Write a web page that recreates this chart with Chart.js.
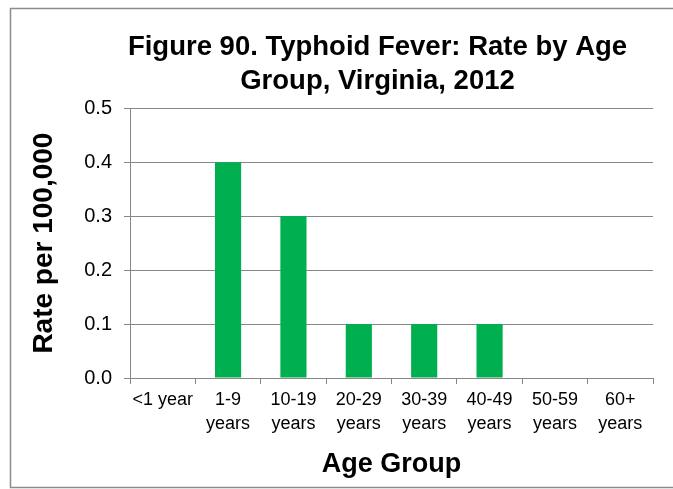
<!DOCTYPE html>
<html>
<head>
<meta charset="utf-8">
<script src="https://cdn.jsdelivr.net/npm/chart.js@4.4.1/dist/chart.umd.min.js"></script>
<style>
  html, body { margin: 0; padding: 0; background: #fff; }
  #wrap { width: 673px; height: 489px; position: relative; }
</style>
</head>
<body>
<div id="wrap"><canvas id="chart" width="673" height="489"></canvas></div>
<script>
// chart data
const ageGroups = ['<1 year', ['1-9', 'years'], ['10-19', 'years'], ['20-29', 'years'],
    ['30-39', 'years'], ['40-49', 'years'], ['50-59', 'years'], ['60+', 'years']];
const rates = [0, 0.4, 0.3, 0.1, 0.1, 0.1, 0, 0];
const yTicks = [0, 0.1, 0.2, 0.3, 0.4, 0.5];

const FONT = "'Liberation Sans', Arial, sans-serif";
const GRID = '#878787';

// outer frame + title offset
const framePlugin = {
    id: 'frame',
    afterLayout(chart) {
        const t = chart.titleBlock;
        if (t) { t.left = 100; t.right = 655; }
    },
    beforeDraw(chart) {
        const ctx = chart.ctx;
        ctx.save();
        ctx.strokeStyle = '#8c8c8c';
        ctx.lineWidth = 1.5;
        ctx.strokeRect(10.5, 8.5, 680, 479);
        ctx.restore();
    }
};

new Chart(document.getElementById('chart'), {
    type: 'bar',
    data: {
        labels: ageGroups,
        datasets: [{
            data: rates,
            backgroundColor: '#00b050',
            barPercentage: 0.4,
            categoryPercentage: 1.0
        }]
    },
    options: {
        responsive: false,
        animation: false,
        layout: { padding: { top: 30, left: 27, right: 20, bottom: 8 } },
        plugins: {
            legend: { display: false },
            tooltip: { enabled: false },
            title: {
                display: true,
                text: ['Figure 90. Typhoid Fever: Rate by Age', 'Group, Virginia, 2012'],
                color: '#000',
                font: { family: FONT, size: 27.5, weight: 'bold', lineHeight: 1.24 },
                padding: { top: 0, bottom: 10 }
            }
        },
        scales: {
            x: {
                afterFit(scale) { scale.height = 103; },
                grid: {
                    offset: true,
                    drawOnChartArea: false,
                    color: GRID,
                    tickLength: 6,
                    tickColor: GRID
                },
                border: { color: GRID, width: 1 },
                ticks: {
                    color: '#000',
                    font: { family: FONT, size: 18, lineHeight: 1.28 },
                    maxRotation: 0,
                    autoSkip: false,
                    padding: 5
                },
                title: {
                    display: true,
                    text: 'Age Group',
                    color: '#000',
                    font: { family: FONT, size: 27, weight: 'bold' },
                    padding: { top: 10, bottom: 0 }
                }
            },
            y: {
                min: 0,
                max: 0.5,
                afterFit(scale) { scale.width = 103; },
                afterBuildTicks(scale) {
                    scale.ticks = yTicks.map(v => ({ value: v }));
                },
                grid: {
                    color: GRID,
                    tickLength: 6,
                    tickColor: GRID
                },
                border: { color: GRID, width: 1 },
                ticks: {
                    color: '#000',
                    font: { family: FONT, size: 20 },
                    padding: 12,
                    callback: v => v.toFixed(1)
                },
                title: {
                    display: true,
                    text: 'Rate per 100,000',
                    color: '#000',
                    font: { family: FONT, size: 28, weight: 'bold' },
                    padding: { top: 0, bottom: 10 }
                }
            }
        }
    },
    plugins: [framePlugin]
});
</script>
</body>
</html>
